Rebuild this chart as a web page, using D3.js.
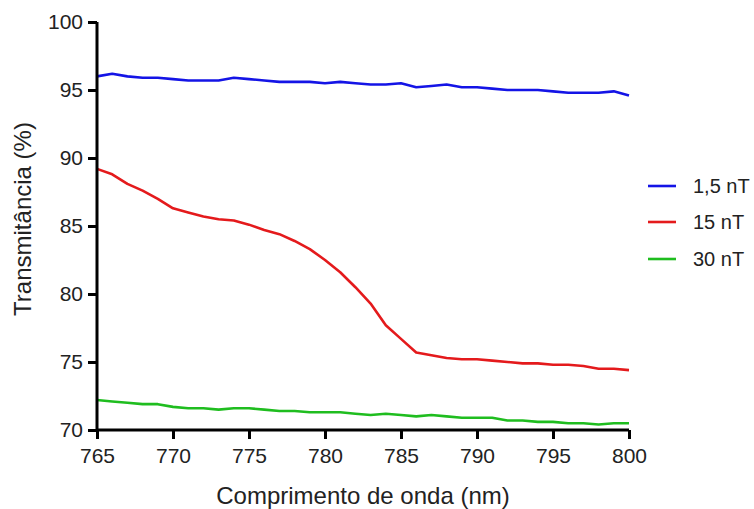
<!DOCTYPE html>
<html>
<head>
<meta charset="utf-8">
<script src="https://cdn.jsdelivr.net/npm/d3@7"></script>
<style>
  html, body { margin: 0; padding: 0; background: #fff; }
  svg { display: block; }
</style>
</head>
<body>
<div id="chart"></div>
<script>
// Wavelength grid (nm) and transmittance (%) for each field strength
const wavelengths = [765,766,767,768,769,770,771,772,773,774,775,776,777,778,779,780,781,782,783,784,785,786,787,788,789,790,791,792,793,794,795,796,797,798,799,800];

const t1_5nT = [96.0,96.2,96.0,95.9,95.9,95.8,95.7,95.7,95.7,95.9,95.8,95.7,95.6,95.6,95.6,95.5,95.6,95.5,95.4,95.4,95.5,95.2,95.3,95.4,95.2,95.2,95.1,95.0,95.0,95.0,94.9,94.8,94.8,94.8,94.9,94.6];
const t15nT  = [89.2,88.8,88.1,87.6,87.0,86.3,86.0,85.7,85.5,85.4,85.1,84.7,84.4,83.9,83.3,82.5,81.6,80.5,79.3,77.7,76.7,75.7,75.5,75.3,75.2,75.2,75.1,75.0,74.9,74.9,74.8,74.8,74.7,74.5,74.5,74.4];
const t30nT  = [72.2,72.1,72.0,71.9,71.9,71.7,71.6,71.6,71.5,71.6,71.6,71.5,71.4,71.4,71.3,71.3,71.3,71.2,71.1,71.2,71.1,71.0,71.1,71.0,70.9,70.9,70.9,70.7,70.7,70.6,70.6,70.5,70.5,70.4,70.5,70.5];

const seriesNames = ["1,5 nT", "15 nT", "30 nT"];
const seriesValues = [t1_5nT, t15nT, t30nT];
const seriesColors = ["#1414e6", "#e41a1c", "#1fbd1f"];

const xTicks = [765,770,775,780,785,790,795,800];
const yTicks = [70,75,80,85,90,95,100];

const W = 754, H = 509;
const margin = { left: 97, right: 125, top: 22, bottom: 79 };

const svg = d3.select("#chart").append("svg")
  .attr("width", W).attr("height", H);

const x = d3.scaleLinear().domain([765, 800]).range([margin.left, W - margin.right]);
const y = d3.scaleLinear().domain([70, 100]).range([H - margin.bottom, margin.top]);

const font = "'Liberation Sans', Arial, sans-serif";

// Data lines
const line = d3.line()
  .x((d, i) => x(wavelengths[i]))
  .y(d => y(d));

seriesValues.forEach((vals, k) => {
  svg.append("path")
    .datum(vals)
    .attr("fill", "none")
    .attr("stroke", seriesColors[k])
    .attr("stroke-width", 2.6)
    .attr("stroke-linejoin", "round")
    .attr("d", line);
});

// Axes
const xAxis = svg.append("g")
  .attr("transform", `translate(0,${y(70)})`)
  .call(d3.axisBottom(x).tickValues(xTicks).tickSize(9).tickPadding(9).tickFormat(d3.format("d")));

const yAxis = svg.append("g")
  .attr("transform", `translate(${x(765)},0)`)
  .call(d3.axisLeft(y).tickValues(yTicks).tickSize(9).tickPadding(5).tickFormat(d3.format("d")));

[xAxis, yAxis].forEach(g => {
  g.select(".domain").attr("stroke", "#000").attr("stroke-width", 3);
  g.selectAll(".tick line").attr("stroke", "#000").attr("stroke-width", 3);
  g.selectAll(".tick text")
    .attr("fill", "#222")
    .style("font-family", font)
    .style("font-size", "21px");
});
xAxis.select(".domain").attr("d", `M${x(765)},0H${x(800)}`);
yAxis.select(".domain").attr("d", `M0,${y(70) + 1.5}V${y(100)}`);

// Axis titles
svg.append("text")
  .attr("x", (x(765) + x(800)) / 2)
  .attr("y", 504)
  .attr("text-anchor", "middle")
  .style("font-family", font)
  .style("font-size", "24px")
  .attr("fill", "#222")
  .text("Comprimento de onda (nm)");

svg.append("text")
  .attr("transform", `translate(31,${219}) rotate(-90)`)
  .attr("text-anchor", "middle")
  .style("font-family", font)
  .style("font-size", "24px")
  .attr("fill", "#222")
  .text("Transmitância (%)");

// Legend
const legend = svg.append("g");
const legendY = [186, 222, 259];
seriesNames.forEach((name, k) => {
  legend.append("line")
    .attr("x1", 648).attr("x2", 676)
    .attr("y1", legendY[k]).attr("y2", legendY[k])
    .attr("stroke", seriesColors[k])
    .attr("stroke-width", 2.6);
  legend.append("text")
    .attr("x", 693)
    .attr("y", legendY[k])
    .attr("dy", "0.36em")
    .style("font-family", font)
    .style("font-size", "20px")
    .attr("fill", "#222")
    .text(name);
});
</script>
</body>
</html>
